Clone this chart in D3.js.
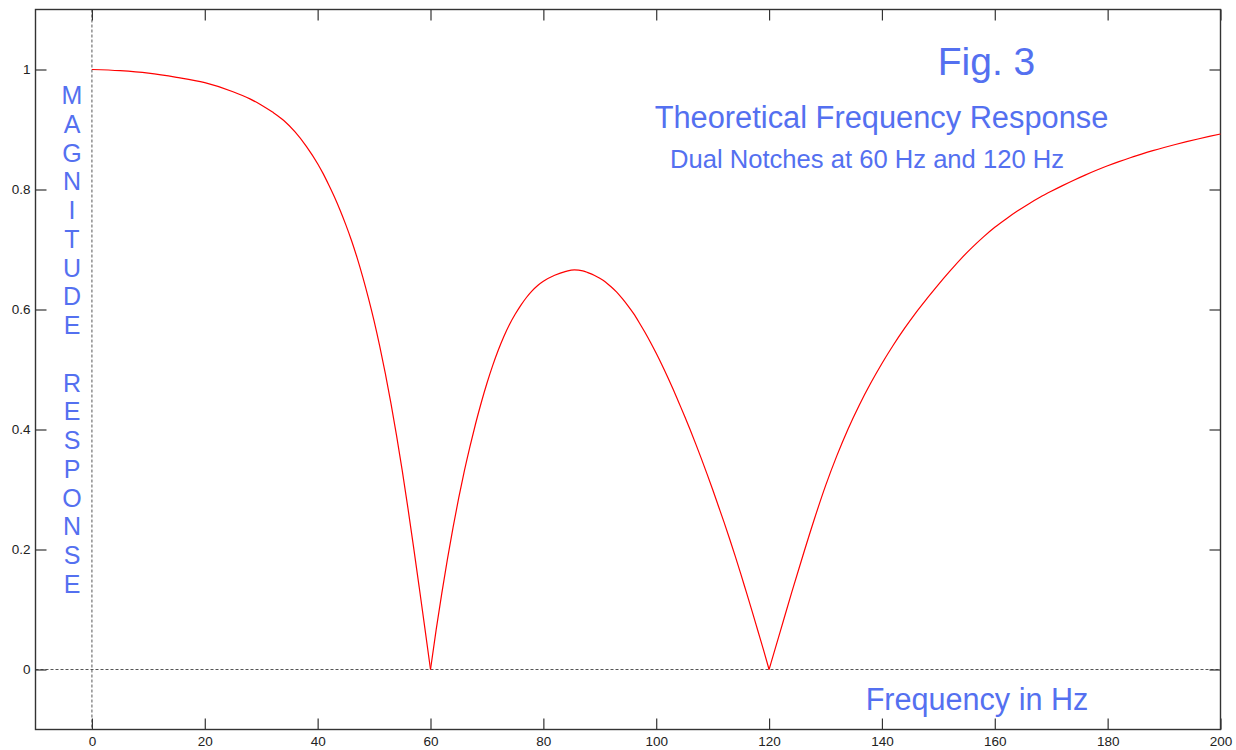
<!DOCTYPE html>
<html>
<head>
<meta charset="utf-8">
<script src="https://cdn.jsdelivr.net/npm/d3@7"></script>
<style>
  html, body { margin: 0; padding: 0; background: #fff; }
  svg { display: block; }
  text { font-family: "Liberation Sans", Arial, sans-serif; }
</style>
</head>
<body>
<svg id="chart" width="1236" height="750"></svg>
<script>
// ---- data ----
const freqHz = [0, 5, 10, 15, 20, 25, 28, 30, 32, 34, 36, 38, 40, 41, 42, 43, 44, 45, 46, 47, 48, 49, 50, 51, 52, 53, 54, 55, 56, 57, 58, 59, 60,
  61, 62, 63, 64, 65, 66, 67, 68, 69, 70, 71, 72, 73, 74, 75, 76, 77, 78, 79, 80, 82, 84, 85.5, 87, 88, 89, 90,
  91, 92, 93, 94, 95, 96, 97, 98, 99, 100, 101, 102, 103, 104, 105, 106, 107, 108, 109, 110,
  111, 112, 113, 114, 115, 116, 117, 118, 119, 120,
  122, 124, 126, 128, 130, 132, 134, 136, 138, 140, 142, 144, 146, 148, 150, 152, 154, 156, 158, 160,
  162, 164, 166, 168, 170, 172, 174, 176, 178, 180, 182, 184, 186, 188, 190, 192, 194, 196, 198, 200];
const magnitude = [1.0, 0.998, 0.994, 0.987, 0.978, 0.963, 0.951, 0.941, 0.929, 0.915, 0.896, 0.872, 0.843, 0.826, 0.807, 0.787, 0.765, 0.741, 0.715, 0.686, 0.654, 0.619, 0.581, 0.539, 0.493, 0.443, 0.389, 0.331, 0.269, 0.204, 0.137, 0.069, 0,
  0.066, 0.127, 0.184, 0.237, 0.286, 0.331, 0.372, 0.410, 0.445, 0.477, 0.506, 0.532, 0.555, 0.575, 0.592, 0.607, 0.620, 0.631, 0.640, 0.647, 0.657, 0.6635, 0.666, 0.6645, 0.661, 0.657, 0.652,
  0.646, 0.638, 0.629, 0.618, 0.606, 0.593, 0.578, 0.562, 0.545, 0.527, 0.508, 0.488, 0.467, 0.445, 0.423, 0.400, 0.376, 0.3515, 0.326, 0.300,
  0.273, 0.246, 0.218, 0.189, 0.159, 0.128, 0.097, 0.065, 0.033, 0,
  0.064, 0.128, 0.190, 0.250, 0.306, 0.356, 0.401, 0.441, 0.477, 0.510, 0.5404, 0.5684, 0.5944, 0.6184, 0.6415, 0.6635, 0.6845, 0.7035, 0.721, 0.737,
  0.751, 0.764, 0.776, 0.787, 0.797, 0.8065, 0.8155, 0.824, 0.832, 0.8395, 0.8465, 0.853, 0.859, 0.8647, 0.870, 0.875, 0.8797, 0.8842, 0.8885, 0.8925];
const notchHz = [60, 120];
const xTicks = [0, 20, 40, 60, 80, 100, 120, 140, 160, 180, 200];
const yTicks = [0, 0.2, 0.4, 0.6, 0.8, 1];
const xDomain = [-10, 200];
const yDomain = [-0.1, 1.1];
const figLabel = "Fig. 3";
const titleText = "Theoretical Frequency Response";
const subtitleText = "Dual Notches at 60 Hz and 120 Hz";
const xAxisLabel = "Frequency in Hz";
const yAxisLabel = "MAGNITUDE RESPONSE";

// ---- layout ----
const svg = d3.select("#chart");
const L = 35.5, R = 1220.5, T = 9.5, B = 729.5;
const blue = "#5470f0";
const x = d3.scaleLinear().domain(xDomain).range([L, R]);
const y = d3.scaleLinear().domain(yDomain).range([B, T]);
const tickLen = 11;

// dotted zero lines
svg.append("line").attr("x1", x(0)).attr("x2", x(0)).attr("y1", T).attr("y2", B)
  .attr("stroke", "#555").attr("stroke-width", 1).attr("stroke-dasharray", "3,2");
svg.append("line").attr("x1", L).attr("x2", R).attr("y1", y(0)).attr("y2", y(0))
  .attr("stroke", "#555").attr("stroke-width", 1).attr("stroke-dasharray", "3,2");

// axes with inward ticks
const axisStyle = g => {
  g.select(".domain").remove();
  g.attr("font-size", null);
  g.selectAll(".tick line").attr("stroke", "#333").attr("stroke-width", 1.2);
  g.selectAll(".tick text").attr("fill", "#222").style("font-size", "13.5px")
    .style("font-family", "'Liberation Sans', Arial, sans-serif");
};
svg.append("g").attr("transform", `translate(0,${B})`)
  .call(d3.axisBottom(x).tickValues(xTicks).tickSizeInner(-tickLen).tickSizeOuter(0).tickPadding(7).tickFormat(d3.format("d")))
  .call(axisStyle);
svg.append("g").attr("transform", `translate(0,${T})`)
  .call(d3.axisTop(x).tickValues(xTicks).tickSizeInner(-tickLen).tickSizeOuter(0).tickFormat(""))
  .call(axisStyle);
svg.append("g").attr("transform", `translate(${L},0)`)
  .call(d3.axisLeft(y).tickValues(yTicks).tickSizeInner(-tickLen).tickSizeOuter(0).tickPadding(5).tickFormat(d => d3.format("")(d)))
  .call(axisStyle);
svg.append("g").attr("transform", `translate(${R},0)`)
  .call(d3.axisRight(y).tickValues(yTicks).tickSizeInner(-tickLen).tickSizeOuter(0).tickFormat(""))
  .call(axisStyle);

// frame
svg.append("rect").attr("x", L).attr("y", T).attr("width", R - L).attr("height", B - T)
  .attr("fill", "none").attr("stroke", "#333").attr("stroke-width", 1.4);

// curve: split at the notches so the V tips stay sharp
const pts = freqHz.map((f, i) => [f, magnitude[i]]);
const bounds = [xDomain[0], ...notchHz, Infinity];
const segments = [];
for (let s = 0; s < bounds.length - 1; s++) {
  segments.push(pts.filter(p => p[0] >= (s === 0 ? -Infinity : bounds[s]) && p[0] <= bounds[s + 1]));
}
const line = d3.line().x(d => x(d[0])).y(d => y(d[1])).curve(d3.curveMonotoneX);
svg.append("g").selectAll("path").data(segments).join("path")
  .attr("fill", "none").attr("stroke", "#ff0000").attr("stroke-width", 1.2)
  .attr("stroke-linejoin", "miter")
  .attr("d", line);

// texts
svg.append("text").attr("x", 986.5).attr("y", 75).attr("text-anchor", "middle")
  .attr("fill", blue).style("font-size", "39px").text(figLabel);
svg.append("text").attr("x", 881.5).attr("y", 128.3).attr("text-anchor", "middle")
  .attr("fill", blue).style("font-size", "30.8px").text(titleText);
svg.append("text").attr("x", 867).attr("y", 168.3).attr("text-anchor", "middle")
  .attr("fill", blue).style("font-size", "25.6px").text(subtitleText);
svg.append("text").attr("x", 977).attr("y", 710).attr("text-anchor", "middle")
  .attr("fill", blue).style("font-size", "30.6px").text(xAxisLabel);

const letters = yAxisLabel.split("");
svg.append("g").selectAll("text").data(letters).join("text")
  .attr("x", 72).attr("y", (d, i) => 104 + i * 28.76)
  .attr("text-anchor", "middle").attr("fill", blue).style("font-size", "25px")
  .text(d => d === " " ? "" : d);
</script>
</body>
</html>
